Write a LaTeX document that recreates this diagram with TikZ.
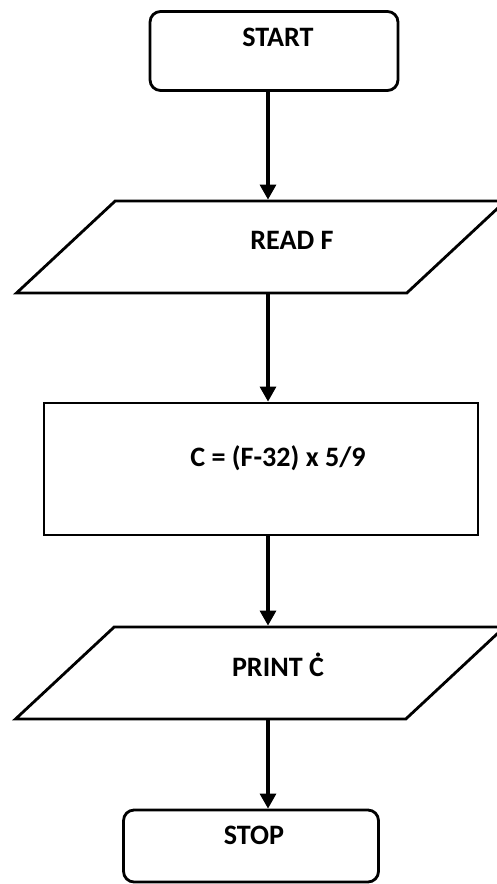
\documentclass[tikz,border=0pt]{standalone}
\usepackage{fontspec}
\setsansfont{Carlito}
\usetikzlibrary{shapes.geometric,arrows.meta}

\begin{document}
\begin{tikzpicture}[
    x=0.02cm, y=-0.02cm,
    terminal/.style={
        rectangle, draw,
        rounded corners=6pt, line width=1.6pt
    },
    io/.style={
        trapezium, draw,
        trapezium left angle=43, trapezium right angle=137,
        trapezium stretches body=true,
        inner ysep=0.92cm, minimum width=9.78cm,
        line width=1.6pt
    },
    process/.style={rectangle, draw, line width=1.6pt},
    txt/.style={font=\sffamily\bfseries\fontsize{16}{19}\selectfont},
    arrow/.style={-{Triangle[length=0.3cm,width=0.32cm]}, line width=1.8pt}
]
  \useasboundingbox (0,0) rectangle (496,884);

  % Nodes
  \node[terminal, minimum width=4.96cm, minimum height=1.58cm,
        label={[txt, shift={(4,-14)}]center:START}] (start) at (274,51) {};
  \node[io, label={[txt, shift={(31,-7)}]center:READ F}] (read) at (261,247) {};
  \node[process, minimum width=8.68cm, minimum height=2.64cm,
        label={[txt, shift={(17,-11)}]center:C = (F-32) x 5/9}] (calc) at (261,469) {};
  \node[io, label={[txt, shift={(18,-8)}]center:PRINT Ċ}] (print) at (260,673) {};
  \node[terminal, minimum width=5.1cm, minimum height=1.44cm,
        label={[txt, shift={(3,-11)}]center:STOP}] (stop) at (251,846) {};

  % Edges
  \coordinate (spine) at (268,0);
  \draw[arrow] (start.south -| spine) -- (read.north -| spine);
  \draw[arrow] (read.south -| spine) -- (calc.north -| spine);
  \draw[arrow] (calc.south -| spine) -- (print.north -| spine);
  \draw[arrow] (print.south -| spine) -- (stop.north -| spine);

\end{tikzpicture}
\end{document}
